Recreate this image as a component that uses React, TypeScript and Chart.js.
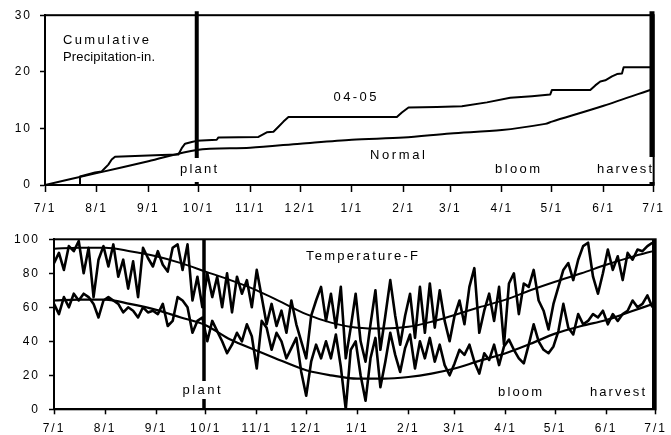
import React, { useEffect, useRef } from "react";
import { Chart, registerables } from "chart.js";
Chart.register(...registerables);

// ---- axis ticks ----
const monthDays = [0, 31, 62, 92, 123, 153, 184, 215, 243, 274, 304, 335, 365];
const monthLabels = ["7/1", "8/1", "9/1", "10/1", "11/1", "12/1", "1/1", "2/1", "3/1", "4/1", "5/1", "6/1", "7/1"];

// ---- events ----
const plantDay = 91;
const harvestDay = 364;

// ---- cumulative precipitation (in.) ----
const precipDays0405 = [0, 21, 21, 30, 34, 36, 38, 40, 42, 50, 70, 80, 82, 84, 88, 91, 103, 104, 128, 133, 137, 140, 143, 146, 211, 214, 218, 235, 250, 265, 279, 292, 303, 304, 327, 330, 333, 336, 340, 343, 346, 347, 364];
const precip0405 = [0, 0, 1.5, 2.2, 2.4, 3.0, 3.6, 4.5, 5.0, 5.1, 5.3, 5.4, 6.5, 7.3, 7.6, 7.8, 8.0, 8.4, 8.5, 9.3, 9.4, 10.3, 11.2, 12.0, 12.0, 12.8, 13.7, 13.8, 13.9, 14.6, 15.4, 15.7, 16.0, 16.8, 16.8, 17.6, 18.3, 18.5, 19.2, 19.6, 19.7, 20.8, 20.8];
const normalPrecipDays = [0, 31, 62, 91, 123, 153, 184, 215, 243, 274, 300, 304, 335, 365];
const normalPrecip = [0, 2.1, 4.2, 6.2, 6.6, 7.3, 8.0, 8.4, 9.1, 9.7, 10.8, 11.2, 14.0, 17.0];

// ---- temperature (F), sampled every 3 days from 7/1 ----
const tempStep = 3;
const dailyMax = [
  86, 92, 82, 96, 93, 99, 80, 95, 66, 88,
  96, 84, 97, 78, 88, 71, 87, 66, 95, 89,
  84, 93, 85, 81, 95, 97, 82, 97, 64, 78,
  60, 80, 66, 78, 60, 80, 57, 78, 68, 76,
  60, 82, 66, 50, 62, 49, 58, 45, 64, 50,
  40, 30, 55, 64, 72, 52, 68, 48, 72, 30,
  48, 68, 40, 28, 50, 70, 35, 55, 76, 55,
  38, 55, 68, 42, 72, 45, 74, 48, 70, 52,
  40, 55, 64, 50, 72, 83, 45, 58, 68, 52,
  72, 38, 74, 80, 56, 74, 72, 82, 64, 58,
  47, 62, 72, 82, 86, 76, 88, 96, 98, 78,
  68, 80, 94, 82, 90, 76, 92, 88, 94, 93,
  96, 98,
];
const dailyMin = [
  62, 56, 66, 60, 68, 64, 68, 66, 62, 54,
  64, 66, 64, 62, 57, 60, 58, 54, 60, 57,
  58, 56, 62, 49, 52, 66, 64, 60, 45, 52,
  54, 40, 52, 46, 40, 33, 38, 45, 40, 50,
  43, 24, 52, 48, 35, 45, 40, 30, 36, 42,
  22, 8, 28, 38, 30, 40, 30, 44, 25, 0,
  35, 40, 20, 5, 30, 42, 13, 28, 45, 32,
  22, 36, 44, 24, 40, 30, 42, 28, 38, 26,
  20, 27, 35, 32, 38, 28, 21, 33, 29, 38,
  26, 37, 41, 35, 30, 27, 38, 50, 40, 35,
  33, 37, 46, 62, 48, 44, 56, 50, 52, 56,
  54, 58, 50, 56, 52, 56, 58, 64, 60, 62,
  67, 60,
];
const normalTempDays = [0, 15, 31, 46, 62, 77, 92, 107, 123, 138, 153, 168, 184, 200, 215, 229, 243, 258, 274, 289, 304, 320, 335, 350, 365];
const normalMax = [94.5, 95, 95, 93, 90, 86, 81, 76, 70, 63, 56, 51, 48, 47.5, 48.5, 51.5, 55.5, 60, 64.5, 70, 75, 80, 85, 89.5, 93.5];
const normalMin = [64, 64.5, 64.5, 62, 58.5, 54, 49.5, 41, 34.5, 28.5, 23, 20, 18, 18, 19, 21, 24, 28.5, 33, 38.5, 44.5, 49, 52.5, 57.5, 62.5];

const FONT = '"Liberation Sans", Arial, Helvetica, sans-serif';

type Note = { text: string; x: number; y: number; w: number; align?: "left" | "center"; box?: [number, number, number, number] };

function drawNote(ctx: CanvasRenderingContext2D, n: Note) {
  ctx.save();
  if (n.box) {
    ctx.fillStyle = "#fff";
    ctx.fillRect(n.box[0], n.box[1], n.box[2], n.box[3]);
  }
  ctx.font = `13px ${FONT}`;
  (ctx as any).letterSpacing = "0px";
  const natural = ctx.measureText(n.text).width;
  const gaps = Math.max(1, n.text.length - 1);
  const sp = Math.max(0, (n.w - natural) / gaps);
  (ctx as any).letterSpacing = `${sp.toFixed(2)}px`;
  ctx.fillStyle = "#000";
  ctx.textBaseline = "middle";
  ctx.textAlign = "left";
  const left = n.align === "left" ? n.x : n.x - n.w / 2;
  ctx.fillText(n.text, left, n.y);
  ctx.restore();
}

function makePlugins(notes: Note[]) {
  return [
    {
      id: "spacing",
      beforeDraw(chart: any) {
        chart.ctx.letterSpacing = "2px";
      },
      afterDraw(chart: any) {
        chart.ctx.letterSpacing = "0px";
      },
    },
    {
      id: "notes",
      afterDatasetsDraw(chart: any) {
        const ctx = chart.ctx as CanvasRenderingContext2D;
        notes.forEach((n) => drawNote(ctx, n));
      },
    },
    {
      id: "frame",
      afterDraw(chart: any) {
        const { left, top, right, bottom } = chart.chartArea;
        const ctx = chart.ctx as CanvasRenderingContext2D;
        ctx.save();
        ctx.strokeStyle = "#000";
        ctx.lineWidth = 2;
        ctx.strokeRect(left, top, right - left, bottom - top);
        ctx.restore();
      },
    },
  ];
}

function xScale(tickLength: number, padding: number, height: number) {
  return {
    type: "linear" as const,
    min: 0,
    max: 365,
    afterBuildTicks: (s: any) => {
      s.ticks = monthDays.map((v) => ({ value: v }));
    },
    afterFit: (s: any) => {
      s.height = height;
    },
    ticks: {
      autoSkip: false,
      maxRotation: 0,
      color: "#000",
      padding,
      font: { family: FONT, size: 12 },
      callback: (v: any) => monthLabels[monthDays.indexOf(Number(v))] ?? "",
    },
    grid: { drawOnChartArea: false, drawTicks: true, tickLength, tickColor: "#000", tickWidth: 1.5 },
    border: { display: true, color: "#000", width: 2 },
  };
}

function yScale(max: number, step: number, width: number, padding: number) {
  return {
    type: "linear" as const,
    min: 0,
    max,
    afterFit: (s: any) => {
      s.width = width;
    },
    ticks: { stepSize: step, color: "#000", padding, font: { family: FONT, size: 12 } },
    grid: { drawOnChartArea: false, drawTicks: true, tickLength: 5, tickColor: "#000", tickWidth: 1.5 },
    border: { display: true, color: "#000", width: 2 },
  };
}

const lineBase = { borderColor: "#000", pointRadius: 0, fill: false, borderJoinStyle: "round" as const, borderCapStyle: "butt" as const };

export default function App() {
  const topRef = useRef<HTMLCanvasElement>(null);
  const botRef = useRef<HTMLCanvasElement>(null);

  useEffect(() => {
    const topNotes: Note[] = [
      { text: "Cumulative", x: 63, y: 40, w: 86, align: "left" },
      { text: "Precipitation-in.", x: 63, y: 57, w: 92, align: "left" },
      { text: "04-05", x: 355, y: 97, w: 43 },
      { text: "Normal", x: 397.5, y: 155, w: 55 },
      { text: "plant", x: 198.5, y: 169, w: 37, box: [178, 158, 42, 24] },
      { text: "bloom", x: 517.5, y: 169, w: 45 },
      { text: "harvest", x: 624.5, y: 169, w: 55, box: [594, 157, 64, 25] },
    ];
    const botNotes: Note[] = [
      { text: "Temperature-F", x: 362, y: 39, w: 112 },
      { text: "plant", x: 201.5, y: 173, w: 38, box: [181, 164, 42, 18] },
      { text: "bloom", x: 520, y: 175, w: 44 },
      { text: "harvest", x: 617.5, y: 175, w: 55 },
    ];

    const top = new Chart(topRef.current!, {
      type: "line",
      data: {
        datasets: [
          { ...lineBase, borderWidth: 2, tension: 0, data: precipDays0405.map((d, i) => ({ x: d, y: precip0405[i] })) },
          { ...lineBase, borderWidth: 2, tension: 0.3, data: normalPrecipDays.map((d, i) => ({ x: d, y: normalPrecip[i] })) },
          { ...lineBase, borderWidth: 4, clip: false as any, data: [{ x: plantDay, y: 0 }, { x: plantDay, y: 30.7 }] },
          { ...lineBase, borderWidth: 5, clip: false as any, data: [{ x: harvestDay, y: 0 }, { x: harvestDay, y: 30.7 }] },
        ],
      },
      options: {
        animation: false,
        responsive: false,
        devicePixelRatio: 1,
        layout: { padding: { top: 14.3, right: 9, left: 0, bottom: 0 } },
        plugins: { legend: { display: false }, tooltip: { enabled: false } },
        scales: { x: xScale(7, 9, 32), y: yScale(30, 10, 45, 8) } as any,
      },
      plugins: makePlugins(topNotes) as any,
    });

    const bot = new Chart(botRef.current!, {
      type: "line",
      data: {
        datasets: [
          { ...lineBase, borderWidth: 2.6, tension: 0, data: dailyMax.map((v, i) => ({ x: i * tempStep, y: v })) },
          { ...lineBase, borderWidth: 2.6, tension: 0, data: dailyMin.map((v, i) => ({ x: i * tempStep, y: v })) },
          { ...lineBase, borderWidth: 2, tension: 0.4, cubicInterpolationMode: "monotone" as const, data: normalTempDays.map((d, i) => ({ x: d, y: normalMax[i] })) },
          { ...lineBase, borderWidth: 2.2, tension: 0.4, cubicInterpolationMode: "monotone" as const, data: normalTempDays.map((d, i) => ({ x: d, y: normalMin[i] })) },
          { ...lineBase, borderWidth: 3.5, data: [{ x: plantDay, y: 0 }, { x: plantDay, y: 100 }] },
          { ...lineBase, borderWidth: 4, data: [{ x: harvestDay, y: 0 }, { x: harvestDay, y: 100 }] },
        ],
      },
      options: {
        animation: false,
        responsive: false,
        devicePixelRatio: 1,
        layout: { padding: { top: 22.3, right: 13, left: 0, bottom: 0 } },
        plugins: { legend: { display: false }, tooltip: { enabled: false } },
        scales: { x: xScale(5, 7, 25.7), y: yScale(100, 20, 54, 9) } as any,
      },
      plugins: makePlugins(botNotes) as any,
    });

    return () => {
      top.destroy();
      bot.destroy();
    };
  }, []);

  return (
    <div style={{ position: "absolute", left: 0, top: 0, width: 671, height: 435, background: "#fff" }}>
      <canvas ref={topRef} width={671} height={217} style={{ position: "absolute", left: 0, top: 0, width: 671, height: 217 }} />
      <canvas ref={botRef} width={671} height={218} style={{ position: "absolute", left: 0, top: 217, width: 671, height: 218 }} />
    </div>
  );
}
